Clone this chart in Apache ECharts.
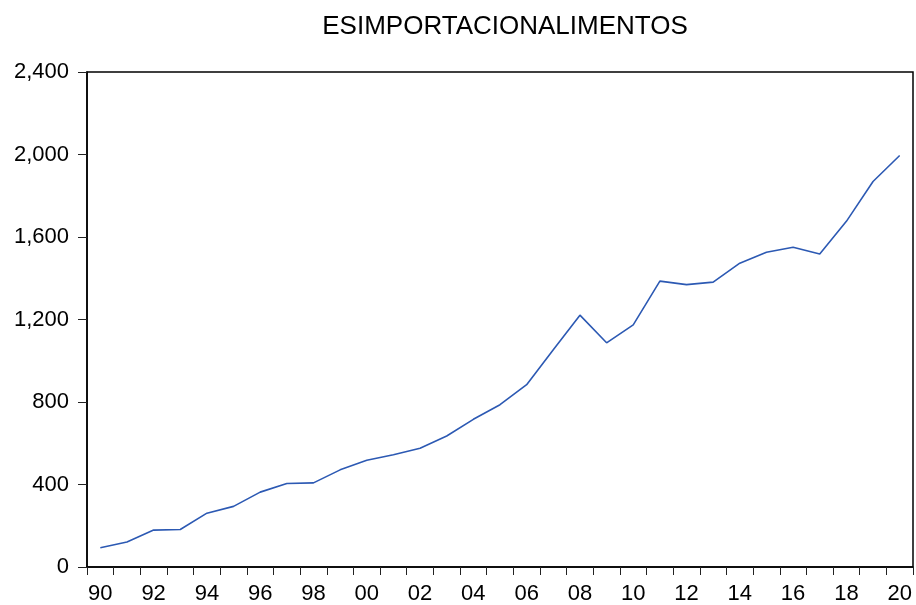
<!DOCTYPE html>
<html>
<head>
<meta charset="utf-8">
<script src="https://cdn.jsdelivr.net/npm/echarts@6/dist/echarts.min.js"></script>
<style>
html,body{margin:0;padding:0;background:#fff;}
#main{width:916px;height:605px;}
</style>
</head>
<body>
<div id="main"></div>
<script>
var years = ['1990','1991','1992','1993','1994','1995','1996','1997','1998','1999',
             '2000','2001','2002','2003','2004','2005','2006','2007','2008','2009',
             '2010','2011','2012','2013','2014','2015','2016','2017','2018','2019','2020'];
var values = [93, 121, 179, 182, 261, 294, 363, 405, 408, 471,
              518, 544, 576, 635, 716, 787, 884, 1053, 1221, 1087,
              1174, 1386, 1369, 1381, 1473, 1526, 1550, 1518, 1676, 1869, 1995];
var yTicks = [0, 400, 800, 1200, 1600, 2000, 2400];

var myChart = echarts.init(document.getElementById('main'));
var font = 'Liberation Sans, Arial, sans-serif';

var option = {
    animation: false,
    title: {
        text: 'ESIMPORTACIONALIMENTOS',
        left: 500,
        textAlign: 'center',
        top: 9,
        textStyle: {fontFamily: font, fontSize: 26, fontWeight: 'normal', color: '#000'}
    },
    grid: {
        left: 87, right: 3, top: 72, bottom: 37,
        show: true, borderColor: '#000', borderWidth: 1.5
    },
    xAxis: {
        type: 'category',
        boundaryGap: true,
        data: years,
        axisLine: {lineStyle: {color: '#000', width: 1.5}},
        axisTick: {show: true, interval: 0, length: 8, lineStyle: {color: '#222'}},
        axisLabel: {
            interval: 1,
            margin: 16,
            fontFamily: font, fontSize: 22, color: '#000',
            formatter: function(v){ return v.substr(2); }
        },
        splitLine: {show: false}
    },
    yAxis: {
        type: 'value',
        min: yTicks[0],
        max: yTicks[yTicks.length - 1],
        interval: 400,
        axisLine: {show: true, lineStyle: {color: '#000', width: 1.5}},
        axisTick: {show: true, length: 9, lineStyle: {color: '#222'}},
        axisLabel: {
            margin: 18,
            fontFamily: font, fontSize: 22, color: '#000',
            formatter: function(v){ return v.toLocaleString('en-US'); }
        },
        splitLine: {show: false}
    },
    series: [
        {
            type: 'line',
            data: values,
            showSymbol: false,
            lineStyle: {color: '#2c59b3', width: 1.6},
            itemStyle: {color: '#2c59b3'}
        }
    ]
};

myChart.setOption(option);
</script>
</body>
</html>
